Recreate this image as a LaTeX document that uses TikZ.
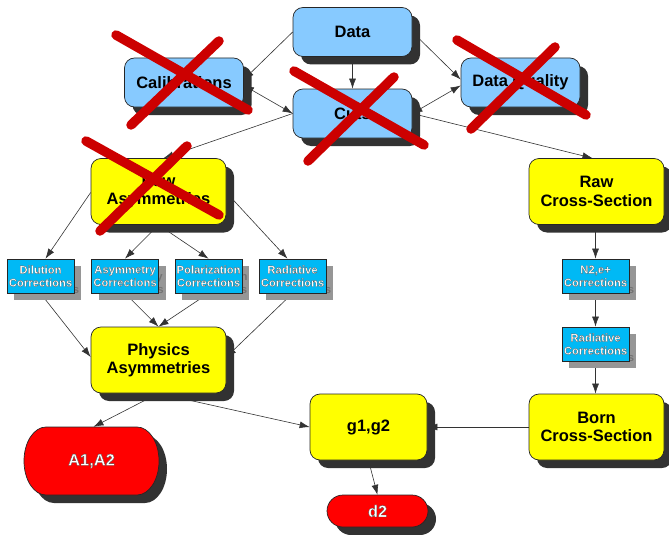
\documentclass[tikz,border=0pt]{standalone}
\usepackage{fontspec}
\setmainfont{Liberation Sans}
\usetikzlibrary{arrows.meta,shadows}
\definecolor{boxblue}{RGB}{135,202,255}
\definecolor{corrblue}{RGB}{0,185,245}
\definecolor{boxyellow}{RGB}{255,255,0}
\definecolor{boxred}{RGB}{255,0,0}
\definecolor{crossred}{RGB}{204,0,0}
\definecolor{shadowdark}{RGB}{50,50,50}
\definecolor{shadowgray}{RGB}{150,150,150}
\pgfdeclarelayer{edgelayer}
\pgfsetlayers{edgelayer,main}
% white lettering with a thin dark rim (fill + stroke text rendering)
\newcommand\rimmed[2]{\special{pdf:literal direct 0.3 0.3 0.3 RG #1 w 2 Tr}#2\special{pdf:literal direct 0 Tr}}
\tikzset{
  bigbox/.style={draw=black!85, line width=0.7pt, rounded corners=10pt,
    inner sep=0pt, align=center, font=\fontsize{16.5}{18.5}\selectfont\bfseries,
    drop shadow={shadow xshift=8pt, shadow yshift=-8pt, fill=shadowdark, opacity=1}},
  bluebox/.style={bigbox, fill=boxblue, minimum width=119pt, minimum height=49pt},
  yellowbox/.style={bigbox, fill=boxyellow, minimum width=135pt, minimum height=66pt},
  corrframe/.style={draw=black!85, line width=0.7pt, fill=corrblue,
    minimum width=67pt, minimum height=34pt, inner sep=0pt, align=center, text=white,
    font=\fontsize{11.3}{13}\selectfont\bfseries},
  corrshade/.style={fill=shadowgray, minimum width=67pt, minimum height=34pt,
    inner sep=0pt, align=center, text=black!55,
    font=\fontsize{11.3}{13}\selectfont\bfseries},
  pilltext/.style={inner sep=0pt, text=white, font=\fontsize{16.5}{18.5}\selectfont\bfseries},
  link/.style={draw=black!80, line width=0.6pt, -{Latex[length=10pt,width=7pt]}},
  duallink/.style={draw=black!80, line width=0.6pt, {Latex[length=10pt,width=7pt]}-{Latex[length=10pt,width=7pt]}},
  strike/.style={draw=crossred, line width=9.5pt, line cap=round},
}
% correction box: name, x, y, first line, second line
\newcommand\corrnode[5]{%
  \node[corrshade] at (#2+7,#3-7) {#4\\#5};
  \node[corrframe] (#1) at (#2,#3) {\rimmed{0.22}{#4}\\\rimmed{0.22}{#5}};
}
% rounded-end result box: name, left, top, right, bottom, end radius x, end radius y, label
\newcommand\pillnode[8]{%
  \fill[shadowdark] (#2+#6+8,#3-8) -- (#4-#6+8,#3-8)
    arc[start angle=90, end angle=-90, x radius=#6, y radius=#7]
    -- (#2+#6+8,#5-8)
    arc[start angle=270, end angle=90, x radius=#6, y radius=#7] -- cycle;
  \filldraw[fill=boxred, draw=black!85, line width=0.7pt] (#2+#6,#3) -- (#4-#6,#3)
    arc[start angle=90, end angle=-90, x radius=#6, y radius=#7]
    -- (#2+#6,#5)
    arc[start angle=270, end angle=90, x radius=#6, y radius=#7] -- cycle;
  \node[pilltext, minimum width=#4-#2, minimum height=#3-#5] (#1)
    at ({(#2+#4)/2},{(#3+#5)/2}) {\rimmed{0.3}{#8}};
}
\begin{document}
\begin{tikzpicture}[x=1pt, y=1pt]
\useasboundingbox (0,0) rectangle (669,-535);

% top row: data handling
\node[bluebox] (data)  at (352.5,-32)   {Data};
\node[bluebox] (calib) at (184,-82.5)   {Calibrations};
\node[bluebox] (cuts)  at (352.5,-113.5){Cuts};
\node[bluebox] (dq)    at (520.5,-82.5) {Data Quality};

% raw quantities
\node[yellowbox] (rawasym) at (158.5,-191.5) {Raw\\Asymmetries};
\node[yellowbox] (rawxs)   at (596.5,-191.5) {Raw\\Cross-Section};

% corrections
\corrnode{dil}{40.5}{-276}{Dilution}{Corrections}
\corrnode{asymc}{125}{-276}{Asymmetry}{Corrections}
\corrnode{polc}{208.5}{-276}{Polarization}{Corrections}
\corrnode{radc}{292.5}{-276}{Radiative}{Corrections}
\corrnode{n2}{595.5}{-276}{N2,e+}{Corrections}
\corrnode{radr}{595.5}{-344}{Radiative}{Corrections}

% physics quantities
\node[yellowbox] (phys) at (158.5,-360) {Physics\\Asymmetries};
\node[yellowbox, minimum width=117pt] (g1g2) at (368.5,-427) {g1,g2};
\node[yellowbox] (born) at (596.5,-427) {Born\\Cross-Section};

% final results
\pillnode{a12}{24}{-427}{159}{-495}{22}{34}{A1,A2}
\pillnode{d2}{327}{-495}{428}{-527}{16}{16}{d2}

% connectors
\begin{pgfonlayer}{edgelayer}
\draw[link] (data.west) -- ([yshift=3pt]calib.east);
\draw[link] (data.south) -- (cuts.north);
\draw[link] (data.east) -- ([yshift=3pt]dq.west);
\draw[duallink] ([yshift=-3pt]calib.east) -- (cuts.west);
\draw[duallink] (cuts.east) -- ([yshift=-3pt]dq.west);
\draw[link] (cuts.west) -- ([xshift=5pt]rawasym.north);
\draw[link] (cuts.east) -- ([xshift=-4pt]rawxs.north);
\draw[link] ([yshift=-1pt]rawasym.west) -- ([xshift=5pt]dil.north);
\draw[link] (rawasym.south) -- (asymc.north);
\draw[link] (rawasym.south) -- (polc.north);
\draw[link] ([yshift=-1pt]rawasym.east) -- ([xshift=-5pt]radc.north);
\draw[link] (dil.south) -- ([yshift=3pt]phys.west);
\draw[link] (asymc.south) -- (phys.north);
\draw[link] (polc.south) -- (phys.north);
\draw[link] (radc.south) -- ([yshift=3pt]phys.east);
\draw[link] (rawxs.south -| n2.north) -- (n2.north);
\draw[link] (n2.south) -- (radr.north);
\draw[link] (radr.south) -- (radr.south |- born.north);
\draw[link] (born.west) -- (g1g2.east);
\draw[link] (phys.south) -- ([xshift=2pt]a12.north);
\draw[link] (phys.south) -- (g1g2.west);
\draw[link] (g1g2.south) -- (d2.north);
\end{pgfonlayer}

% struck-out stages
\draw[strike] (116,-35) -- (248,-110);
\draw[strike] (219,-41) -- (131,-125);
\draw[strike] (294,-71) -- (424,-145);
\draw[strike] (394,-77) -- (308,-161);
\draw[strike] (457,-40) -- (586,-115);
\draw[strike] (555,-47) -- (471,-129);
\draw[strike] (86,-141) -- (219,-215);
\draw[strike] (187,-146) -- (100,-231);
\end{tikzpicture}
\end{document}
